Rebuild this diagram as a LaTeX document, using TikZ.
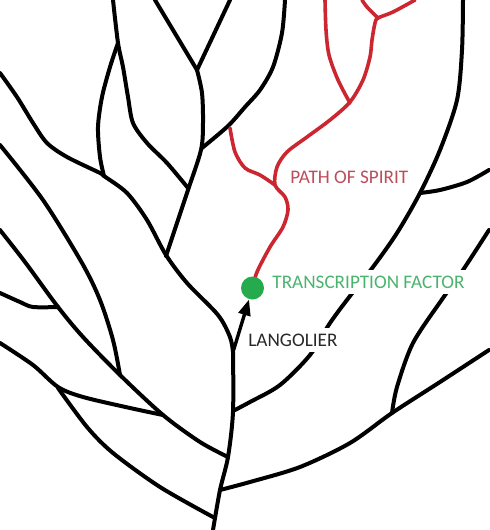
\documentclass[tikz,border=0pt]{standalone}
\usepackage{fontspec}
\newfontfamily\labelfont{Carlito}
\usetikzlibrary{arrows.meta}
\definecolor{spiritred}{RGB}{204,38,48}
\definecolor{spirittext}{RGB}{188,78,92}
\definecolor{tfgreen}{RGB}{38,170,78}
\definecolor{tftext}{RGB}{74,180,110}
\definecolor{langtext}{RGB}{40,40,40}
\begin{document}
\begin{tikzpicture}[x=0.5pt, y=-0.5pt, line cap=round, line join=round,
    vein/.style={line width=2pt, black},
    spirit/.style={line width=1.8pt, spiritred},
    lbl/.style={anchor=base west, fill=white, inner sep=3pt,
      font=\labelfont\fontsize{9.6}{11}\selectfont}]
        \useasboundingbox (0,0) rectangle (489,530);

        % left side of the tree
        \draw[vein] plot[smooth] coordinates {(113,0) (118,43) (123,67) (128,97) (133,123) (147,143) (167,163) (188,188)};
            \draw[vein] plot[smooth] coordinates {(118,43) (110,67) (102,97) (98,127) (100,157) (104,176)};
        \draw[vein] plot[smooth] coordinates {(0,73) (17,97) (33,123) (47,143) (67,157) (100,173) (104,176) (127,193) (147,220) (166,255) (187,283) (218,315) (230,337) (233,352)};
        \draw[vein] (155,0) -- (197,70);
        \draw[vein] (230,0) -- (197,70);
        \draw[vein] plot[smooth] coordinates {(197,70) (202,93) (203,123) (201,150) (188,190) (177,223) (166,256)};
            \draw[vein] plot[smooth] coordinates {(202,148) (228,126) (245,107) (260,90) (273,67) (282,33) (285,0)};
        \draw[vein] plot[smooth] coordinates {(0,145) (43,200) (82,263) (100,300) (113,340) (120,375)};
        \draw[vein] plot[smooth] coordinates {(0,230) (25,262) (58,307) (83,337) (120,375) (163,415) (200,442) (228,457)};
            \draw[vein] plot[smooth] coordinates {(0,293) (20,302) (33,307) (58,307)};
        \draw[vein] plot[smooth] coordinates {(0,343) (33,365) (58,387) (83,397) (130,408) (163,415)};
            \draw[vein] plot[smooth] coordinates {(58,388) (87,427) (113,453) (160,487) (213,517)};

        % trunk and right side
        \draw[vein] plot[smooth] coordinates {(233,352) (233,412) (228,457) (220,490) (213,530)};
        \draw[vein] plot[smooth] coordinates {(233,411) (250,402) (280,385) (310,355) (330,323) (350,296) (373,267) (397,233) (420,193) (440,150) (457,100) (462,50) (463,0)};
            \draw[vein] plot[smooth] coordinates {(420,193) (440,190) (467,182) (489,170)};
        \draw[vein] plot[smooth] coordinates {(489,230) (463,270) (443,298) (413,343) (397,387) (392,413)};
        \draw[vein] plot[smooth] coordinates {(220,490) (250,482) (300,467) (350,443) (392,413) (440,382) (489,350)};

        % path of spirit
        \coordinate (tfc) at (252.5,288);
        \draw[spirit] plot[smooth] coordinates {(tfc) (257,272) (270,247) (283,227) (288,210) (285,197) (275,185) (277,167) (287,152) (307,137) (330,120) (350,102) (363,80) (370,57) (372,40) (375,23) (378,18) (393,12) (415,0)};
            \draw[spirit] plot[smooth] coordinates {(378,18) (367,7) (362,0)};
            \draw[spirit] plot[smooth] coordinates {(350,103) (338,80) (329,55) (326,30) (325,0)};
            \draw[spirit] plot[smooth] coordinates {(275,185) (260,175) (245,168) (235,152) (230,128)};

        \node[lbl, text=spirittext] (spiritlbl) at (284,183) {PATH OF SPIRIT};
        \node[lbl, text=tftext] (tflbl) at (266,288) {TRANSCRIPTION FACTOR};
        \node[lbl, text=langtext] (langlbl) at (242,346) {LANGOLIER};

        \node[circle, fill=tfgreen, minimum size=11.5pt, inner sep=0pt] (tf) at (tfc) {};
        \coordinate (fork) at (233,352);
        \draw[line width=1.7pt, -{Triangle[length=8pt, width=6pt]}] (fork) -- (tf);
    \end{tikzpicture}
\end{document}
